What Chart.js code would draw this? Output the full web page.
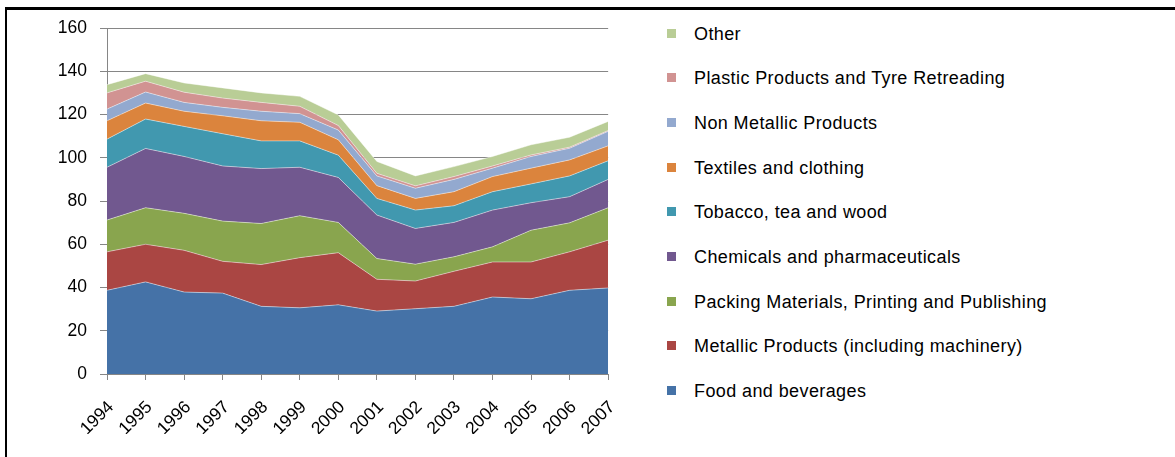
<!DOCTYPE html>
<html>
<head>
<meta charset="utf-8">
<script src="https://cdn.jsdelivr.net/npm/chart.js@4"></script>
<style>
  html, body { margin: 0; padding: 0; background: #fff; }
  #wrap { position: relative; width: 1175px; height: 457px; overflow: hidden; font-family: "Liberation Sans", Arial, sans-serif; }
  #frame { position: absolute; left: 5px; top: 7px; right: -10px; bottom: -10px; border-top: 3px solid #000; border-left: 2px solid #000; }
  #chartBox { position: absolute; left: 0; top: 0; width: 640px; height: 457px; }
  #legend { position: absolute; left: 667px; top: 0; margin: 0; padding: 0; list-style: none; }
  #legend li { position: absolute; left: 0; height: 20px; line-height: 20px; white-space: nowrap; font-size: 18px; letter-spacing: 0.4px; color: #000; }
  #legend span { position: absolute; left: 0; top: 5px; width: 9px; height: 9px; }
  #legend b { font-weight: normal; position: absolute; left: 27px; top: 0; }
</style>
</head>
<body>
<div id="wrap">
  <div id="frame"></div>
  <div id="chartBox"><canvas id="myChart1" width="640" height="457"></canvas></div>
  <ul id="legend"></ul>
</div>
<script>
var years = ["1994","1995","1996","1997","1998","1999","2000","2001","2002","2003","2004","2005","2006","2007"];
// one array per sector, bottom layer first
var food = [38.7, 42.6, 37.9, 37.4, 31.3, 30.6, 32.0, 29.1, 30.2, 31.3, 35.6, 34.8, 38.7, 39.8];
var metallic = [17.8, 17.4, 19.3, 14.7, 19.3, 23.2, 24.1, 14.7, 12.8, 16.2, 16.2, 17.0, 17.8, 22.1];
var packing = [14.7, 16.9, 17.1, 18.6, 19.0, 19.4, 14.0, 9.6, 7.8, 6.7, 7.0, 14.7, 13.4, 15.0];
var chemicals = [24.4, 27.4, 26.3, 25.5, 25.4, 22.4, 20.8, 20.1, 16.5, 15.9, 17.0, 12.7, 12.1, 13.1];
var tobacco = [13.0, 13.6, 13.9, 14.9, 12.8, 12.2, 10.3, 7.7, 8.5, 7.7, 8.5, 8.7, 9.6, 8.6];
var textiles = [8.5, 7.4, 7.0, 8.3, 9.3, 8.6, 7.1, 5.9, 5.4, 6.5, 7.0, 7.3, 7.4, 6.9];
var nonMetallic = [5.4, 5.1, 4.1, 3.9, 4.4, 4.0, 4.5, 4.5, 4.7, 5.7, 3.9, 5.4, 5.4, 6.7];
var plastic = [7.5, 5.0, 4.7, 4.3, 4.1, 3.4, 2.1, 1.2, 1.1, 1.3, 1.0, 0.7, 0.5, 0.4];
var other = [3.8, 3.5, 4.3, 4.7, 4.4, 4.6, 4.9, 5.5, 4.6, 4.6, 4.4, 4.7, 4.6, 4.2];

var names = ["Food and beverages", "Metallic Products (including machinery)", "Packing Materials, Printing and Publishing",
  "Chemicals and pharmaceuticals", "Tobacco, tea and wood", "Textiles and clothing", "Non Metallic Products",
  "Plastic Products and Tyre Retreading", "Other"];
var series = [food, metallic, packing, chemicals, tobacco, textiles, nonMetallic, plastic, other];
var colors = ["#4572A7", "#AA4643", "#89A54E", "#71588F", "#4198AF", "#DB843D", "#93A9CF", "#D19392", "#B9CD96"];

var sets = [];
for (var i = 0; i < series.length; i++) {
  sets.push({
    label: names[i],
    data: series[i],
    backgroundColor: colors[i],
    borderColor: "rgba(255,255,255,0.45)",
    borderWidth: 1,
    pointRadius: 0,
    tension: 0,
    fill: i == 0 ? "origin" : "-1"
  });
}

Chart.defaults.font.family = "'Liberation Sans', Arial, sans-serif";
Chart.defaults.font.size = 17.5;
Chart.defaults.color = "#000";

var ctx = document.getElementById("myChart1");
var myChart = new Chart(ctx, {
  type: 'line',
  data: { labels: years, datasets: sets },
  options: {
    responsive: false,
    animation: false,
    layout: { padding: { left: 0, top: 28, right: 13, bottom: 23 } },
    plugins: { legend: { display: false }, tooltip: { enabled: false } },
    scales: {
      x: {
        offset: false,
        grid: { drawOnChartArea: false, color: "#868686", tickLength: 6 },
        border: { color: "#868686" },
        ticks: { minRotation: 45, maxRotation: 45, padding: 17, labelOffset: 4 },
        afterFit: function(scale) { scale.height = 60; }
      },
      y: {
        stacked: true,
        min: 0,
        max: 160,
        grid: { color: "#868686", tickLength: 7 },
        border: { color: "#868686" },
        ticks: { stepSize: 20, padding: 13 },
        afterFit: function(scale) { scale.width = 107; }
      }
    }
  }
});

// legend, top item is the top layer
var ul = document.getElementById("legend");
for (var j = series.length - 1; j >= 0; j--) {
  var k = series.length - 1 - j;
  var li = document.createElement("li");
  li.style.top = (33.5 + k * 44.7 - 10) + "px";
  li.innerHTML = '<span style="background:' + colors[j] + '"></span><b>' + names[j] + '</b>';
  ul.appendChild(li);
}
</script>
</body>
</html>
